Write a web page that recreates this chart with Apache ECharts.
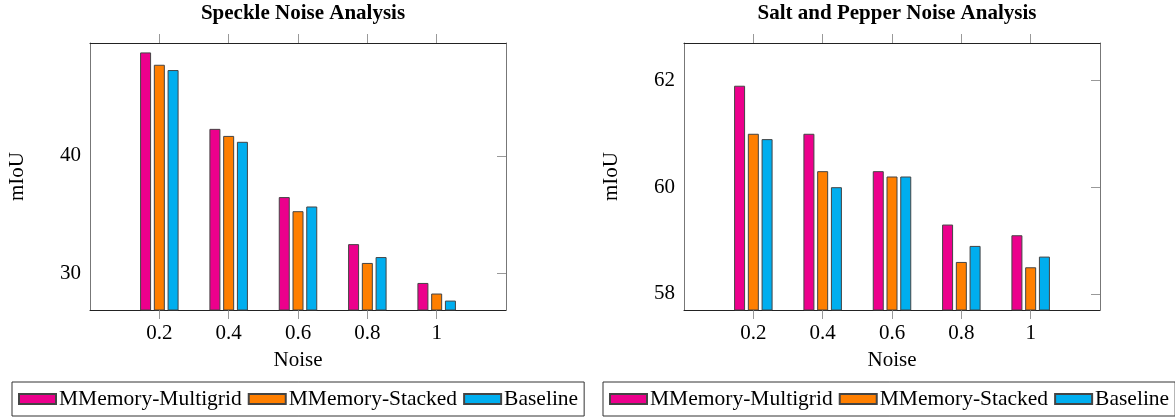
<!DOCTYPE html>
<html><head><meta charset="utf-8">
<script src="https://cdn.jsdelivr.net/npm/echarts@6/dist/echarts.min.js"></script>
<style>html,body{margin:0;padding:0;background:#fff}#c{width:1175px;height:419px}</style>
</head><body><div id="c"></div>
<script>
const noiseLevels = [0.2, 0.4, 0.6, 0.8, 1];
const seriesNames = ['MMemory-Multigrid', 'MMemory-Stacked', 'Baseline'];
const speckleMultigrid = [48.8, 42.3, 36.5, 32.5, 29.2];
const speckleStacked = [47.75, 41.7, 35.3, 30.9, 28.3];
const speckleBaseline = [47.3, 41.2, 35.7, 31.4, 27.7];
const spMultigrid = [61.9, 61.0, 60.3, 59.3, 59.1];
const spStacked = [61.0, 60.3, 60.2, 58.6, 58.5];
const spBaseline = [60.9, 60.0, 60.2, 58.9, 58.7];
const speckleTicks = [30, 40];
const spTicks = [58, 60, 62];
const titles = ['Speckle Noise Analysis', 'Salt and Pepper Noise Analysis'];

const colors = ['#EC008C', '#FF7F00', '#00AEEF'];
const FONT = 'Liberation Serif';

const panels = [
  { title: titles[0], ticks: speckleTicks, min: 26.9, max: 49.6, data: [speckleMultigrid, speckleStacked, speckleBaseline], left: 90, right: 669, titleX: 298, legendLeft: 12 },
  { title: titles[1], ticks: spTicks, min: 57.7, max: 62.7, data: [spMultigrid, spStacked, spBaseline], left: 684, right: 75, titleX: 892, legendLeft: 603 }
];

const grid = [], xAxis = [], yAxis = [], series = [], title = [], legend = [];
panels.forEach((p, gi) => {
  grid.push({ left: p.left, right: p.right, top: 43, bottom: 109 });
  title.push({ text: p.title, left: p.titleX, top: -2, textAlign: 'center',
    textStyle: { fontFamily: FONT, fontWeight: 'bold', fontSize: 21, color: '#000' } });
  xAxis.push({ gridIndex: gi, type: 'value', min: 0, max: 1.2, position: 'bottom',
    name: 'Noise', nameLocation: 'middle', nameGap: 40,
    nameTextStyle: { fontFamily: FONT, fontSize: 21, color: '#000' },
    axisLine: { show: true, onZero: false, lineStyle: { color: '#222', width: 1 } },
    axisTick: { show: true, inside: false, length: 9, customValues: noiseLevels, lineStyle: { color: '#999' } },
    axisLabel: { customValues: noiseLevels, margin: 13, fontFamily: FONT, fontSize: 21, color: '#000' },
    splitLine: { show: false } });
  xAxis.push({ gridIndex: gi, type: 'value', min: 0, max: 1.2, position: 'top',
    axisLine: { show: true, onZero: false, lineStyle: { color: '#222', width: 1 } },
    axisTick: { show: true, inside: false, length: 9, customValues: noiseLevels, lineStyle: { color: '#999' } },
    axisLabel: { show: false }, splitLine: { show: false } });
  yAxis.push({ gridIndex: gi, type: 'value', min: p.min, max: p.max, position: 'left',
    name: 'mIoU', nameLocation: 'middle', nameGap: 62, nameRotate: 90,
    nameTextStyle: { fontFamily: FONT, fontSize: 21, color: '#000' },
    axisLine: { show: true, onZero: false, lineStyle: { color: '#777', width: 1 } },
    axisTick: { show: false },
    axisLabel: { customValues: p.ticks, margin: 9, fontFamily: FONT, fontSize: 21, color: '#000' },
    splitLine: { show: false } });
  yAxis.push({ gridIndex: gi, type: 'value', min: p.min, max: p.max, position: 'right',
    axisLine: { show: true, onZero: false, lineStyle: { color: '#777', width: 1 } },
    axisTick: { show: true, inside: true, length: 9, customValues: p.ticks, lineStyle: { color: '#999' } },
    axisLabel: { show: false }, splitLine: { show: false } });
  p.data.forEach((vals, si) => {
    series.push({ type: 'bar', name: seriesNames[si], xAxisIndex: gi * 2, yAxisIndex: gi * 2,
      barWidth: 11, barGap: '25%',
      itemStyle: { color: colors[si], borderColor: '#444', borderWidth: 1 },
      data: noiseLevels.map((x, i) => [x, vals[i]]) });
  });
  legend.push({ data: seriesNames, left: p.legendLeft, top: 382, width: 580, orient: 'horizontal',
    padding: [6, 6, 6, 6], itemGap: 6, itemWidth: 37, itemHeight: 10, icon: 'rect',
    borderColor: '#333', borderWidth: 1, selectedMode: false,
    textStyle: { fontFamily: FONT, fontSize: 21.5, color: '#000', padding: [0, 0, 0, -2] } });
});

const chart = echarts.init(document.getElementById('c'), null, { renderer: 'canvas' });
chart.setOption({ animation: false, backgroundColor: '#fff', title, legend, grid, xAxis, yAxis, series });
</script></body></html>
